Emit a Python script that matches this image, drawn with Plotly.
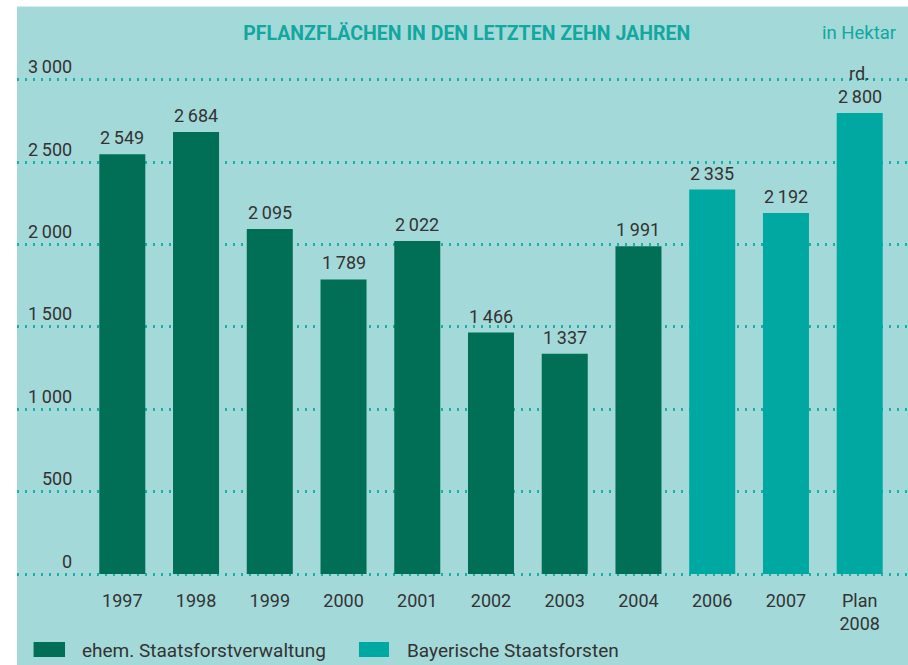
import plotly.graph_objects as go

# Daten (in Hektar)
years_old = ["1997", "1998", "1999", "2000", "2001", "2002", "2003", "2004"]
values_old = [2549, 2684, 2095, 1789, 2022, 1466, 1337, 1991]
years_new = ["2006", "2007", "Plan<br>2008"]
values_new = [2335, 2192, 2800]
value_prefix_new = ["", "", "rd."]
y_ticks = [0, 500, 1000, 1500, 2000, 2500, 3000]

name_old = "ehem. Staatsforstverwaltung"
name_new = "Bayerische Staatsforsten"

# Farben
BG = "#a3d9d9"
DARK = "#006f56"
TEAL = "#00a8a2"
GRID = "#17b1aa"
TITLE = "#12a79f"
TEXT = "#333333"
FONT = "Roboto, 'Liberation Sans', sans-serif"

categories = years_old + years_new
values_all = values_old + values_new
prefix_all = [""] * len(years_old) + value_prefix_new


def fmt(v):
    # Tausendertrennzeichen als schmales Leerzeichen
    return f"{v:,}".replace(",", "\u2009")


fig = go.Figure()

fig.add_trace(go.Bar(
    x=years_old, y=values_old, name=name_old,
    marker=dict(color=DARK, line=dict(width=0)),
    showlegend=False, hoverinfo="x+y"
))
fig.add_trace(go.Bar(
    x=years_new, y=values_new, name=name_new,
    marker=dict(color=TEAL, line=dict(width=0)),
    showlegend=False, hoverinfo="x+y"
))

# Wertebeschriftungen über den Balken (x als Kategorie-Index)
for i, (v, p) in enumerate(zip(values_all, prefix_all)):
    fig.add_annotation(x=i, y=v, text=fmt(v), showarrow=False,
                       yanchor="bottom", yshift=4,
                       font=dict(family=FONT, size=18, color=TEXT))
    if p:
        fig.add_annotation(x=i, y=v, text=p, showarrow=False,
                           yanchor="bottom", yshift=27,
                           font=dict(family=FONT, size=18, color=TEXT))

# Y-Achsenbeschriftungen oberhalb der Gitterlinien
for t in y_ticks:
    fig.add_annotation(x=0.064, xref="paper", y=t, yref="y", text=fmt(t),
                       showarrow=False, xanchor="right", yanchor="middle",
                       yshift=13, font=dict(family=FONT, size=18, color=TEXT))

# Einheit
fig.add_annotation(x=0.9888, xref="paper", y=1.0222, yref="paper",
                   text="in Hektar", showarrow=False, xanchor="right",
                   yanchor="middle", font=dict(family=FONT, size=18.5, color=TITLE))

# Legende (manuell)
legend_items = [(name_old, DARK, 0.0186, 0.0539, 0.0707),
                (name_new, TEAL, 0.3838, 0.4175, 0.4355)]
for label, col, x0, x1, xt in legend_items:
    fig.add_shape(type="rect", xref="paper", yref="paper",
                  x0=x0, x1=x1, y0=-0.1312, y1=-0.1035,
                  fillcolor=col, line=dict(width=0))
    fig.add_annotation(x=xt, xref="paper", y=-0.1183, yref="paper",
                       text=label, showarrow=False, xanchor="left",
                       yanchor="middle", font=dict(family=FONT, size=19, color=TEXT))

# weißer Rand oben und links
fig.add_shape(type="rect", xref="paper", yref="paper",
              x0=-0.05, x1=0, y0=-0.2, y1=1.2,
              fillcolor="white", line=dict(width=0), layer="below")
fig.add_shape(type="rect", xref="paper", yref="paper",
              x0=-0.05, x1=1.05, y0=1.0711, y1=1.2,
              fillcolor="white", line=dict(width=0), layer="below")

fig.update_layout(
    width=908, height=665,
    margin=dict(l=17, r=0, t=45, b=79),
    paper_bgcolor=BG, plot_bgcolor="rgba(0,0,0,0)",
    barmode="overlay", bargap=0.376,
    title=dict(text="<b>PFLANZFLÄCHEN IN DEN LETZTEN ZEHN JAHREN</b>",
               x=0.514, xanchor="center", y=0.9504, yanchor="middle",
               font=dict(family=FONT, size=19.5, color=TITLE)),
    xaxis=dict(
        type="category",
        categoryorder="array",
        categoryarray=categories,
        range=[-1.428, 10.655],
        showgrid=False, zeroline=False, showline=False,
        ticks="", tickfont=dict(family=FONT, size=18, color=TEXT),
        ticklabelstandoff=2,
    ),
    yaxis=dict(
        range=[-72.9, 3212.5],
        tickvals=y_ticks, showticklabels=False,
        showgrid=True, gridcolor=GRID, gridwidth=2.5, griddash="2px,6px",
        zeroline=False, showline=False, ticks="",
    ),
)

fig.write_html("out.html",
               config={"displayModeBar": False},
               post_script="document.body.style.margin='0';"
                           "document.body.style.overflow='hidden';")
